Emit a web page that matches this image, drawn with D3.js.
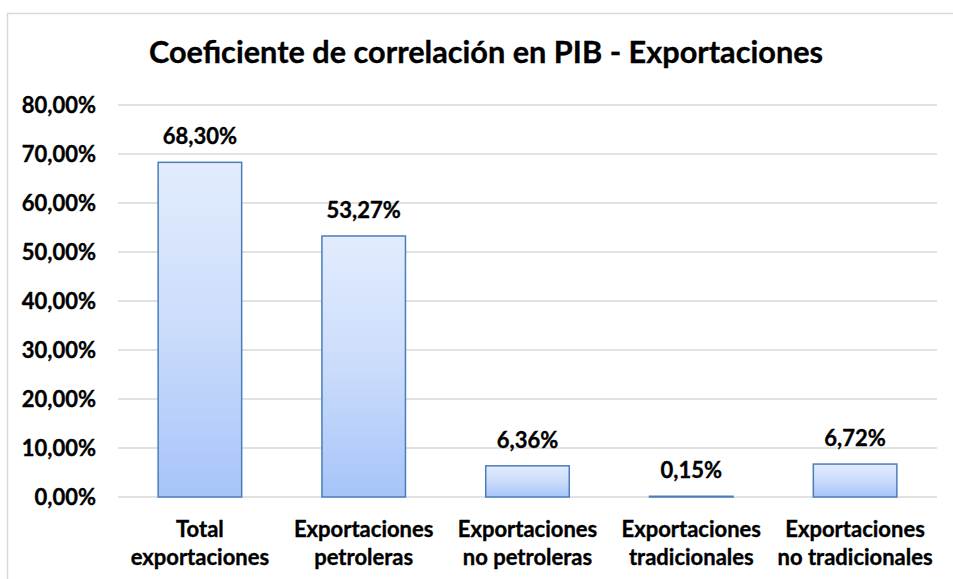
<!doctype html>
<html lang="en">
<head>
  <meta charset="utf-8">
  <script src="https://cdnjs.cloudflare.com/ajax/libs/d3/7.8.5/d3.min.js"></script>
  <style type="text/css">
    body {
      padding: 0;
      margin: 0;
      background: #fff;
    }
    svg text {
      font-family: Lato, "Open Sans", sans-serif;
      font-weight: bold;
      fill: #000;
      stroke: #000;
      stroke-width: 0.35px;
    }
  </style>
</head>
<body>
<svg id="canvas" width="953" height="579"></svg>
<script>
var title = 'Coeficiente de correlación en PIB - Exportaciones';
var categories = [
  ['Total', 'exportaciones'],
  ['Exportaciones', 'petroleras'],
  ['Exportaciones', 'no petroleras'],
  ['Exportaciones', 'tradicionales'],
  ['Exportaciones', 'no tradicionales']
];
var values = [68.30, 53.27, 6.36, 0.15, 6.72];
var ticks = [0, 10, 20, 30, 40, 50, 60, 70, 80];

var width = 953;
var height = 579;
var marginLeft = 118;
var marginRight = 16;
var marginTop = 105;
var marginBottom = 82;

var svg = d3.select('#canvas');

var defs = svg.append('defs');
var grad = defs.append('linearGradient')
  .attr('id', 'barFill')
  .attr('x1', 0).attr('y1', 0)
  .attr('x2', 0).attr('y2', 1);
grad.append('stop').attr('offset', '0%').attr('stop-color', '#e2ecfd');
grad.append('stop').attr('offset', '50%').attr('stop-color', '#cbdcfb');
grad.append('stop').attr('offset', '100%').attr('stop-color', '#a6c4f9');

// chart frame
svg.append('rect')
  .attr('x', 7.5)
  .attr('y', 13.5)
  .attr('width', width)
  .attr('height', height)
  .attr('fill', '#fff')
  .attr('stroke', '#d9d9d9')
  .attr('stroke-width', 1.5);

var x = d3.scaleBand()
  .domain(d3.range(categories.length))
  .range([marginLeft, width - marginRight])
  .paddingInner(0.49)
  .paddingOuter(0.245);

var y = d3.scaleLinear()
  .domain([0, 80])
  .range([height - marginBottom, marginTop]);

var fmt = function(v) {
  return v.toFixed(2).replace('.', ',') + '%';
};

// gridlines
svg.append('g').selectAll('line').data(ticks).enter().append('line')
  .attr('x1', marginLeft)
  .attr('x2', width - marginRight)
  .attr('y1', function(d) { return y(d); })
  .attr('y2', function(d) { return y(d); })
  .attr('stroke', '#d9d9d9')
  .attr('stroke-width', 1.5);

// y axis labels
var yAxis = svg.append('g')
  .attr('transform', 'translate(' + (marginLeft - 22) + ',0)')
  .call(d3.axisLeft(y).tickValues(ticks).tickSize(0).tickPadding(0)
    .tickFormat(function(d) { return d.toFixed(2).replace('.', ',') + '%'; }));
yAxis.select('.domain').remove();
yAxis.selectAll('text')
  .attr('dy', '0.36em')
  .style('font-family', 'Lato, "Open Sans", sans-serif')
  .style('font-size', '22px')
  .style('font-weight', 'bold')
  .attr('fill', '#000');

// bars
svg.append('g').selectAll('rect').data(values).enter().append('rect')
  .attr('x', function(d, i) { return x(i); })
  .attr('y', function(d) { return y(d); })
  .attr('width', x.bandwidth())
  .attr('height', function(d) { return y(0) - y(d); })
  .attr('fill', 'url(#barFill)')
  .attr('stroke', '#4a7ebb')
  .attr('stroke-width', 1.5);

// value labels
svg.append('g').selectAll('text').data(values).enter().append('text')
  .attr('x', function(d, i) { return x(i) + x.bandwidth() / 2; })
  .attr('y', function(d) { return y(d) - 18; })
  .attr('text-anchor', 'middle')
  .style('font-size', '22px')
  .text(fmt);

// category labels
var cat = svg.append('g').selectAll('text').data(categories).enter().append('text')
  .attr('x', function(d, i) { return x(i) + x.bandwidth() / 2; })
  .attr('y', height - marginBottom + 40)
  .attr('text-anchor', 'middle')
  .style('font-size', '22px');
cat.selectAll('tspan').data(function(d) { return d; }).enter().append('tspan')
  .attr('x', function() { return d3.select(this.parentNode).attr('x'); })
  .attr('dy', function(d, i) { return i === 0 ? 0 : 28; })
  .text(function(d) { return d; });

// title
svg.append('text')
  .attr('x', 486)
  .attr('y', 63)
  .attr('text-anchor', 'middle')
  .style('font-size', '30.7px')
  .text(title);
</script>
</body>
</html>
